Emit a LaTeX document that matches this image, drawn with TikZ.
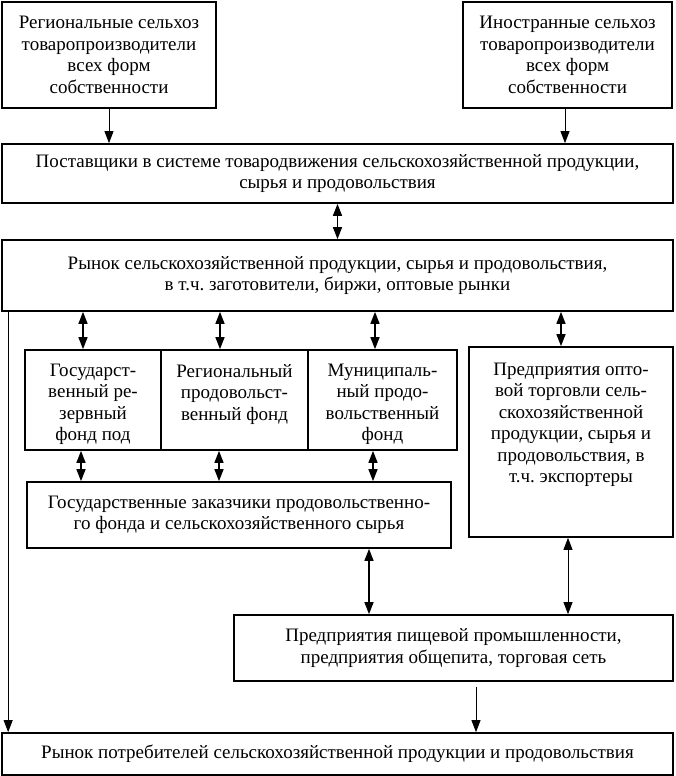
\documentclass[tikz,border=0pt]{standalone}
\usepackage{fontspec}
\setmainfont{Liberation Serif}
\usetikzlibrary{arrows.meta}
\frenchspacing

\begin{document}
\begin{tikzpicture}[x=1pt, y=-1pt, >={Triangle[length=12pt,width=9pt]},
  font=\fontsize{19}{21.5}\selectfont,
  box/.style={draw, line width=1.7pt, align=center, inner sep=2pt},
  dbl/.style={<->, line width=1.4pt},
  sgl/.style={->, line width=0.8pt}]
  \useasboundingbox (0,0) rectangle (675,776);

  % producers
  \node[box, minimum width=214pt, minimum height=106pt] (regprod) at (109,55)
    {Региональные сельхоз\\товаропроизводители\\всех форм\\собственности};
  \node[box, minimum width=209pt, minimum height=106pt] (forprod) at (567.5,55)
    {Иностранные сельхоз\\товаропроизводители\\всех форм\\собственности};

  % suppliers and market
  \node[box, minimum width=671pt, minimum height=59pt] (suppl) at (337.5,173.5)
    {Поставщики в системе товародвижения сельскохозяйственной продукции,\\сырья и продовольствия};
  \node[box, minimum width=671pt, minimum height=71pt] (market) at (337.5,275.5)
    {Рынок сельскохозяйственной продукции, сырья и продовольствия,\\в т.ч. заготовители, биржи, оптовые рынки};

  % funds
  \node[box, minimum width=136pt, minimum height=100pt] (reserve) at (93,400)
    {\parbox[c][72pt][t]{130pt}{\centering Государст-\\венный ре-\\зервный\\фонд под}};
  \node[box, minimum width=147pt, minimum height=100pt] (regfund) at (234.5,400)
    {\parbox[c][72pt][t]{140pt}{\centering Региональный\\продовольст-\\венный фонд}};
  \node[box, minimum width=149pt, minimum height=100pt] (munfund) at (382.5,400)
    {\parbox[c][72pt][t]{140pt}{\centering Муниципаль-\\ный продо-\\вольственный\\фонд}};
  \node[box, minimum width=204pt, minimum height=190pt] (whole) at (571,442)
    {\parbox[c][158pt][t]{196pt}{\centering Предприятия опто-\\вой торговли сель-\\скохозяйственной\\продукции, сырья и\\продовольствия, в\\т.ч. экспортеры}};

  % customers, industry, consumers
  \node[box, minimum width=424pt, minimum height=66pt] (cust) at (239,515)
    {Государственные заказчики продовольственно-\\го фонда и сельскохозяйственного сырья};
  \node[box, minimum width=439pt, minimum height=66pt] (food) at (453.5,648)
    {Предприятия пищевой промышленности,\\предприятия общепита, торговая сеть};
  \node[box, minimum width=671pt, minimum height=42pt] (cons) at (337.5,754)
    {Рынок потребителей сельскохозяйственной продукции и продовольствия};

  % arrows
  \draw[sgl] (regprod.south) -- (regprod.south |- suppl.north);
  \draw[sgl] ([xshift=-2.5pt]forprod.south) -- ([xshift=-2.5pt]forprod.south |- suppl.north);
  \draw[dbl] (suppl.south) -- (market.north);
  \draw[dbl] ([xshift=-10pt]reserve.north |- market.south) -- ([xshift=-10pt]reserve.north);
  \draw[dbl] ([xshift=-14.5pt]regfund.north |- market.south) -- ([xshift=-14.5pt]regfund.north);
  \draw[dbl] ([xshift=-7.5pt]munfund.north |- market.south) -- ([xshift=-7.5pt]munfund.north);
  \draw[dbl] ([xshift=-10pt]whole.north |- market.south) -- ([xshift=-10pt]whole.north);
  \draw[dbl] ([xshift=-12pt]reserve.south) -- ([xshift=-12pt]reserve.south |- cust.north);
  \draw[dbl] ([xshift=-15.5pt]regfund.south) -- ([xshift=-15.5pt]regfund.south |- cust.north);
  \draw[dbl] ([xshift=-9.5pt]munfund.south) -- ([xshift=-9.5pt]munfund.south |- cust.north);
  \draw[dbl] ([xshift=130pt]cust.south) -- ([xshift=130pt]cust.south |- food.north);
  \draw[<->, line width=0.8pt] ([xshift=-3pt]whole.south) -- ([xshift=-3pt]whole.south |- food.north);
  \draw[sgl] ([xshift=22.5pt,yshift=-5pt]food.south) -- ([xshift=22.5pt]food.south |- cons.north);
  \draw[sgl] ([xshift=7pt]market.south west) -- ([xshift=7pt]cons.north west);
\end{tikzpicture}
\end{document}
